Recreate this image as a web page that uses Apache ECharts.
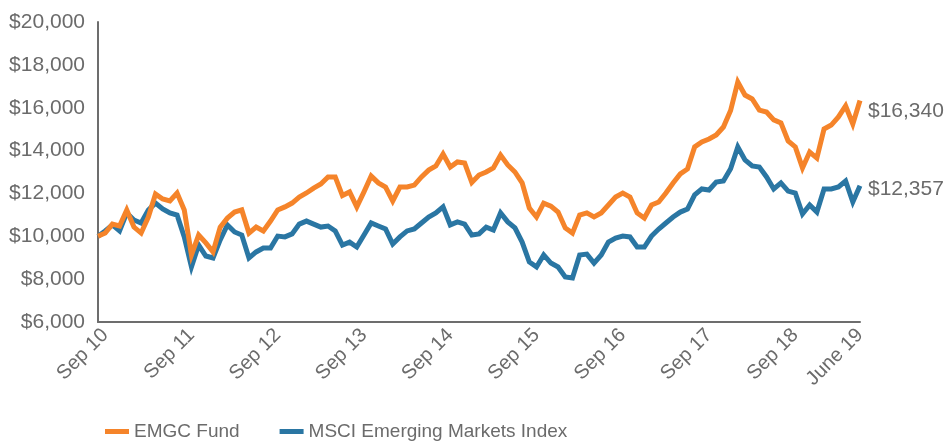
<!DOCTYPE html>
<html>
<head>
<meta charset="utf-8">
<script src="https://cdn.jsdelivr.net/npm/echarts@6/dist/echarts.min.js"></script>
<style>
  html, body { margin: 0; padding: 0; background: #fff; }
  #chart { width: 945px; height: 441px; }
</style>
</head>
<body>
<div id="chart"></div>
<script>
// month labels: first point is the starting $10,000, then month ends Sep 10 .. Jun 19
const monthNames = ['Jan','Feb','Mar','Apr','May','Jun','Jul','Aug','Sep','Oct','Nov','Dec']
const categories = ['Start']
for (let y = 2010, m = 8; y < 2019 || m <= 5; m++) {
  if (m > 11) { m = 0; y++ }
  categories.push(monthNames[m] + ' ' + String(y).slice(2))
}

// labels shown under the axis
const tickCategories = ['Sep 10','Sep 11','Sep 12','Sep 13','Sep 14','Sep 15','Sep 16','Sep 17','Sep 18','Jun 19']
const tickLabels = ['Sep 10','Sep 11','Sep 12','Sep 13','Sep 14','Sep 15','Sep 16','Sep 17','Sep 18','June 19']

const emgcFund = [
  10000, 10150, 10570, 10480, 11230, 10430, 10150, 10900, 11970, 11740, 11650, 12020, 11230, 9130, 10060, 9690, 9270, 10430,
  10850, 11130, 11230, 10150, 10430, 10250, 10710, 11230, 11370, 11550, 11830, 12020, 12250, 12440, 12770, 12770, 11900, 12070,
  11370, 12070, 12810, 12490, 12300, 11650, 12300, 12300, 12390, 12770, 13090, 13280, 13840, 13230, 13470, 13420, 12510,
  12860, 13000, 13190, 13790, 13330, 13000, 12490, 11320, 10900, 11550, 11410, 11130, 10390, 10150, 10990, 11090, 10900, 11090,
  11460, 11830, 12020, 11830, 11090, 10850, 11460, 11600, 12020, 12490, 12910, 13140, 14170, 14400, 14540, 14730, 15100, 15870,
  17200, 16590, 16410, 15890, 15800, 15430, 15290, 14450, 14170, 13190, 13930, 13650, 15010, 15190, 15570, 16080, 15240, 16340
]

const msciEm = [
  10000, 10250, 10530, 10250, 11090, 10760, 10620, 11230, 11550, 11280, 11090, 10990, 9970, 8570, 9590, 9080, 8990, 9830,
  10530, 10200, 10060, 8990, 9270, 9450, 9450, 10010, 9970, 10110, 10570, 10710, 10570, 10430, 10480, 10250, 9590, 9730,
  9500, 10060, 10620, 10480, 10340, 9640, 9970, 10250, 10340, 10620, 10900, 11090, 11370, 10530, 10670, 10570, 10060,
  10110, 10430, 10290, 11090, 10670, 10390, 9730, 8800, 8570, 9130, 8750, 8570, 8100, 8050, 9130, 9170, 8750, 9130,
  9730, 9920, 10010, 9970, 9500, 9500, 10010, 10340, 10620, 10900, 11130, 11270, 11930, 12210, 12160, 12530, 12580, 13150,
  14170, 13560, 13280, 13230, 12770, 12210, 12490, 12110, 12020, 11040, 11460, 11130, 12210, 12210, 12300, 12580, 11600, 12357
]

const textColor = '#6b6b6b'
const font = "'Liberation Sans', Arial, sans-serif"
const money = v => '$' + Number(v).toLocaleString('en-US')

const chart = echarts.init(document.getElementById('chart'))
chart.setOption({
  animation: false,
  grid: { left: 98, right: 85, top: 22, bottom: 119 },
  legend: {
    left: 100,
    top: 417,
    itemWidth: 24,
    itemHeight: 5,
    itemGap: 40,
    icon: 'rect',
    textStyle: { color: textColor, fontSize: 19, fontFamily: font },
    data: ['EMGC Fund', 'MSCI Emerging Markets Index']
  },
  xAxis: {
    type: 'category',
    boundaryGap: false,
    data: categories,
    axisLine: { lineStyle: { color: '#6d6d6d', width: 2 } },
    axisTick: { show: false },
    axisLabel: {
      rotate: 45,
      margin: 10,
      color: textColor,
      fontSize: 20,
      fontFamily: font,
      interval: (i, v) => tickCategories.includes(v),
      formatter: v => tickLabels[tickCategories.indexOf(v)]
    },
    splitLine: { show: false }
  },
  yAxis: {
    type: 'value',
    min: 6000,
    max: 20000,
    interval: 2000,
    axisLine: { show: true, lineStyle: { color: '#6d6d6d', width: 2 } },
    axisTick: { show: false },
    splitLine: { show: false },
    axisLabel: {
      margin: 13,
      color: textColor,
      fontSize: 21,
      fontFamily: font,
      formatter: money
    }
  },
  series: [
    {
      name: 'EMGC Fund',
      type: 'line',
      data: emgcFund,
      z: 3,
      symbol: 'none',
      color: '#f5842a',
      lineStyle: { width: 5, join: 'miter' },
      endLabel: {
        show: true,
        distance: 8,
        offset: [0, 11],
        color: textColor,
        fontSize: 21,
        fontFamily: font,
        formatter: p => money(p.value)
      }
    },
    {
      name: 'MSCI Emerging Markets Index',
      type: 'line',
      data: msciEm,
      z: 2,
      symbol: 'none',
      color: '#2a76a3',
      lineStyle: { width: 5, join: 'miter' },
      endLabel: {
        show: true,
        distance: 8,
        offset: [0, 3],
        color: textColor,
        fontSize: 21,
        fontFamily: font,
        formatter: p => money(p.value)
      }
    }
  ]
})
</script>
</body>
</html>
